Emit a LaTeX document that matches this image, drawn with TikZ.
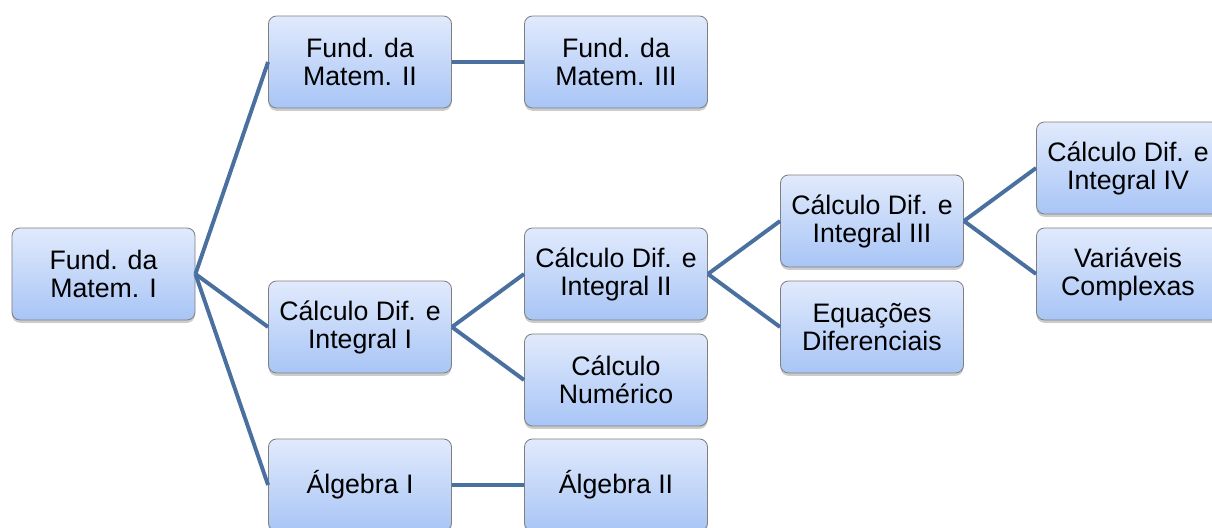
\documentclass[tikz,border=0pt]{standalone}
\usepackage{fontspec}
\setmainfont{Liberation Sans}
\usetikzlibrary{shadows}

\definecolor{boxtop}{RGB}{225,234,252}
\definecolor{boxbottom}{RGB}{168,197,246}
\definecolor{boxline}{RGB}{128,128,128}
\definecolor{linkblue}{RGB}{74,112,160}

\begin{document}
\begin{tikzpicture}[x=0.025cm,y=-0.025cm,
    course/.style={draw=boxline, line width=0.6pt, rounded corners=0.2cm,
        top color=boxtop, bottom color=boxbottom,
        minimum width=4.575cm, minimum height=2.3cm, inner sep=0pt,
        align=center, font=\fontsize{19}{20}\selectfont,
        drop shadow={shadow xshift=0pt, shadow yshift=-2pt, fill=black, opacity=0.2}},
    prereq/.style={draw=linkblue, line width=2.8pt}]
\clip (0,0) rectangle (1212,527);
\node[course] (fm1) at (103.5,274) {Fund. da\\Matem. I}; % root
\node[course] (fm2) at (360,62) {Fund. da\\Matem. II};
\node[course] (fm3) at (616,62) {Fund. da\\Matem. III};
\node[course] (cdi1) at (360,327) {Cálculo Dif. e\\Integral I};
\node[course] (cdi2) at (616,274) {Cálculo Dif. e\\Integral II};
\node[course] (cn) at (616,380) {Cálculo\\Numérico};
\node[course] (cdi3) at (872,221) {Cálculo Dif. e\\Integral III};
\node[course] (eq) at (872,327) {Equações\\Diferenciais};
\node[course] (cdi4) at (1128,168) {Cálculo Dif. e\\Integral IV};
\node[course] (vc) at (1128,274) {Variáveis\\Complexas};
\node[course] (alg1) at (360,485) {Álgebra I};
\node[course] (alg2) at (616,485) {Álgebra II};
\foreach \from/\to in {fm1/fm2, fm1/cdi1, fm1/alg1, fm2/fm3, cdi1/cdi2, cdi1/cn,
    cdi2/cdi3, cdi2/eq, cdi3/cdi4, cdi3/vc, alg1/alg2}
    \draw[prereq] (\from.east) -- (\to.west);
\end{tikzpicture}
\end{document}
